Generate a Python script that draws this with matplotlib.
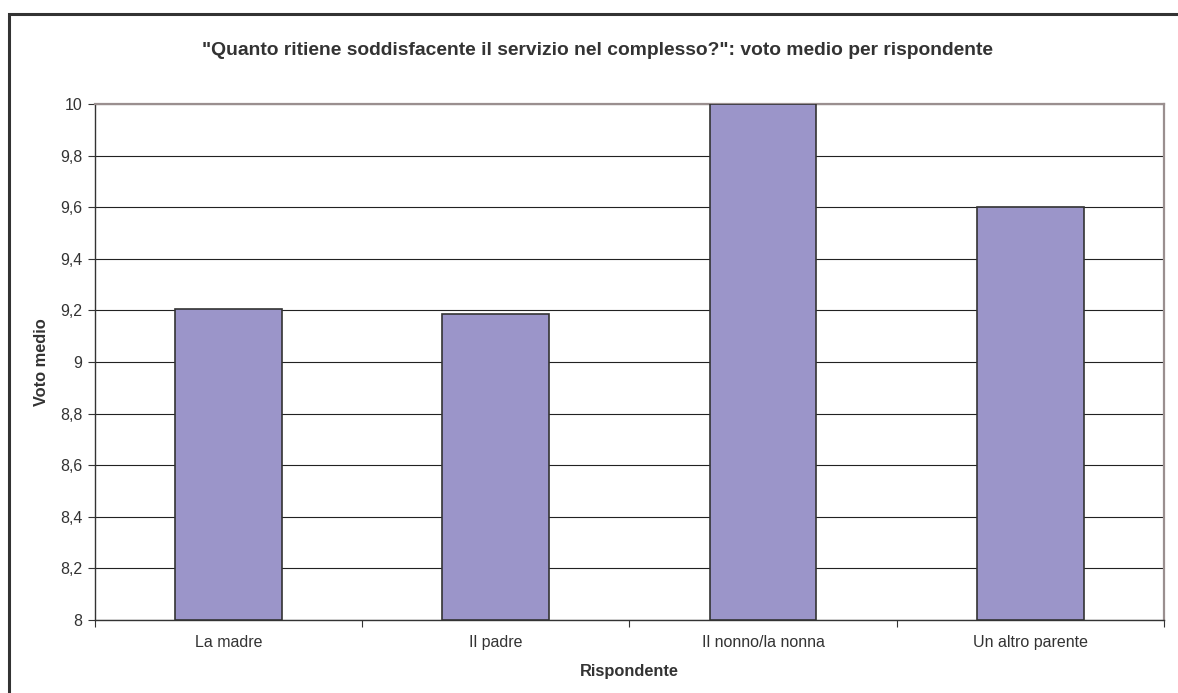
import numpy as np
import matplotlib.pyplot as plt
from matplotlib.patches import Rectangle
from matplotlib.ticker import FixedLocator, FuncFormatter

plt.rcParams['font.family'] = ['Liberation Sans', 'DejaVu Sans']

# voto medio per tipo di rispondente
rispondenti = ["La madre", "Il padre", "Il nonno/la nonna", "Un altro parente"]
voto_medio = [9.205, 9.186, 10.0, 9.6]
y_ticks = [8, 8.2, 8.4, 8.6, 8.8, 9, 9.2, 9.4, 9.6, 9.8, 10]

testo = "#333333"

fig = plt.figure(figsize=(11.78, 6.93), dpi=100)
ax = fig.add_axes([0.0806, 0.1053, 0.9074, 0.7447])

x = np.arange(len(rispondenti))
ax.bar(x, [v - 8 for v in voto_medio], bottom=8, width=0.4,
       color="#9b95c9", edgecolor="#333333", linewidth=1.2, zorder=3)

ax.set_xlim(-0.5, len(rispondenti) - 0.5)
ax.set_ylim(8, 10)

ax.yaxis.set_major_locator(FixedLocator(y_ticks))
ax.yaxis.set_major_formatter(FuncFormatter(lambda v, p: f"{v:g}".replace(".", ",")))
ax.grid(axis="y", color="#222222", linewidth=0.8, zorder=0)

# etichette al centro, tacche ai confini delle categorie
ax.set_xticks(x)
ax.set_xticklabels(rispondenti, fontsize=11.5, color=testo)
ax.set_xticks(np.arange(len(rispondenti) + 1) - 0.5, minor=True)
ax.tick_params(axis="x", which="major", length=0, pad=11)
ax.tick_params(axis="x", which="minor", length=5, width=0.8, color="#333333", direction="out")
ax.tick_params(axis="y", length=5, width=0.8, color="#333333", labelsize=11.5,
               labelcolor=testo, pad=4)

for side in ["left", "bottom"]:
    ax.spines[side].set_color("#333333")
    ax.spines[side].set_linewidth(1.0)
for side in ["top", "right"]:
    ax.spines[side].set_color("#9a8f8f")
    ax.spines[side].set_linewidth(1.6)

ax.set_xlabel("Rispondente", fontsize=11.8, fontweight="bold", color=testo, labelpad=10)
ax.set_ylabel("Voto medio", fontsize=11.8, fontweight="bold", color=testo, labelpad=8)
fig.text(0.507, 0.927, '"Quanto ritiene soddisfacente il servizio nel complesso?": voto medio per rispondente',
         ha="center", va="center", fontsize=13.9, fontweight="bold", color=testo)

# cornice esterna del grafico
fig.patches.append(Rectangle((9 / 1178, -0.2), 1.2, (693 - 14) / 693 + 0.2,
                             transform=fig.transFigure, fill=False,
                             edgecolor="#333333", linewidth=2.2))

fig.savefig("out.png", dpi=100, facecolor="white")
